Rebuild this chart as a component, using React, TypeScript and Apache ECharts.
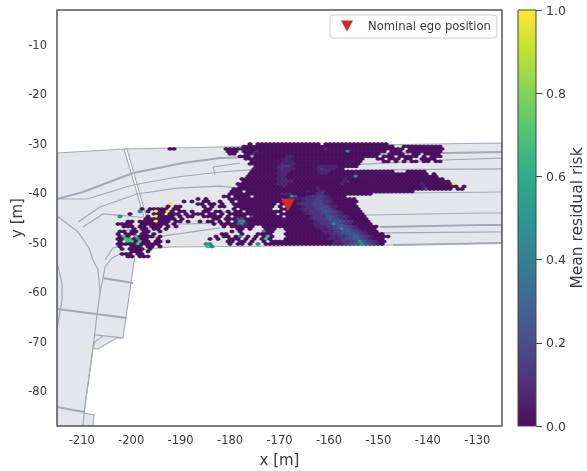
import React, { useEffect, useRef } from "react";
import * as echarts from "echarts";

const xRange = [-215, -125];
const yRange = [-87, -3];
const xTicks = [-210, -200, -190, -180, -170, -160, -150, -140, -130];
const yTicks = [-80, -70, -60, -50, -40, -30, -20, -10];
const colorTicks = [0, 0.2, 0.4, 0.6, 0.8, 1];
const viridis = ["#440154", "#482475", "#414487", "#355f8d", "#2a788e", "#21918c", "#22a884", "#44bf70", "#7ad151", "#bddf26", "#fde725"];
const egoPosition = [-168.3, -42.4];
const egoLabel = "Nominal ego position";

const roadArea = [[-215, -31.87], [-201.24, -31.06], [-182.02, -30.66], [-159.77, -30.36], [-125, -29.85], [-125, -50.04], [-147.03, -50.45], [-192.14, -50.85], [-198.21, -51.46], [-199.22, -52.46], [-201.65, -69.2], [-202.86, -69.2], [-206.7, -71.44], [-207.72, -71.24], [-209.54, -84.37], [-207.51, -84.77], [-207.72, -87], [-215, -87]];
const crossingStripe = [[-201.45, -31.06], [-200.84, -31.06], [-195.78, -48.83], [-196.19, -48.83]];
const roadThick = [
  [[-215, -41.16], [-209.74, -39.75], [-199.63, -35.91], [-189.51, -33.89], [-182.02, -32.88], [-165.84, -32.28], [-136.9, -31.87], [-125, -31.67]],
  [[-149.65, -46.81], [-129.4, -46.41], [-125, -46.41]],
  [[-147.03, -50.45], [-125, -50.04]],
  [[-215, -63.37], [-200.84, -65.18]],
  [[-205.69, -57.11], [-199.63, -58.12]],
  [[-215, -83.15], [-209.54, -84.16]],
];
const roadThin = [
  [[-215, -41.16], [-208.93, -41.16], [-206.3, -40.35], [-199.63, -38.33], [-190.72, -36.72], [-182.02, -35.71], [-175.96, -35.3], [-155.72, -34.29], [-136.9, -33.29], [-125, -32.9]],
  [[-183.44, -34.7], [-183.04, -36.31]],
  [[-183.44, -34.7], [-177.98, -33.89]],
  [[-153.7, -35.3], [-125, -35.1]],
  [[-210.75, -45.8], [-206.3, -42.77], [-198.82, -40.15], [-190.72, -38.95], [-182.02, -38.55], [-165.84, -40.35], [-145.6, -39.95], [-125, -39.75]],
  [[-209.74, -46.81], [-205.69, -44.19], [-196.19, -45], [-182.02, -43.78], [-151.68, -44.39], [-129.4, -43.99], [-125, -43.99]],
  [[-202.86, -48.02], [-196.19, -46.41], [-182.02, -46], [-148.24, -48.02], [-125, -47.82]],
  [[-205.29, -53.47], [-203.67, -51.05], [-196.19, -49.03], [-182.02, -47]],
  [[-215, -44.59], [-210.75, -47.81], [-208.53, -51.05], [-207.72, -53.47], [-206.7, -55.49], [-206.3, -60.14], [-206.91, -64.58], [-207.72, -71.24], [-209.54, -84.37], [-209.74, -87]],
  [[-205.69, -57.11], [-205.29, -54.89], [-203.87, -53.07], [-202.25, -52.26], [-198.82, -51.66]],
  [[-205.69, -57.11], [-206.3, -60.14]],
  [[-207.31, -68.6], [-201.65, -69.2]],
  [[-205.69, -68.8], [-207.31, -70], [-207.72, -71.24]],
  [[-215, -54.08], [-214, -58.12], [-214, -61.55], [-215, -67.6]],
];

// One string per hexagon row, top to bottom; every hexbin cell is a level of mean risk, "." = no sample.
const hexRows = [
  ".......... .......... .......... ...0.00000 0000000000 0.00000000 00000000..",
  ".......... .......... .......... .000000000 0000000000 0000000000 000000000. .000000000 0",
  ".......... ...00..... .......000 0000000000 0000000000 0010000000 0000000000 00.0000000 00",
  ".......... .......... .......000 .000100000 0000000000 0000000T00 0000000.00 0.00000000 0",
  ".......... .......... ........00 ..00100000 0000000000 0000000000 000000..00 00..00.000 0",
  ".......... .......... .......... 000.000000 0011000000 0000000000 00000.000. 00000.0.00 0",
  ".......... .......... .......... ..00000000 0011000000 0000000000 00...00.00 0.00..0000",
  ".......... .......... .......... ...0000000 0111000000 0000000000 0.....00.0 .0.00.00.0 0",
  ".......... .......... .......... ...0000000 0111100000 0000000000 0.........",
  ".......... .......... .......... ....000000 1221000000 1111100000",
  ".......... .......... .......... ....000000 1211100000 1211100...",
  ".......... .......... .......... ...0000000 1110000000 1110000000 000000000. ..00000...",
  ".......... .......... .......... ...0000000 1110000000 0110000000 0000000000 00000000.0",
  ".......... .......... .......... ..00000000 1100000000 000000000T 0000000000 0000000000",
  ".......... .......... .......... .000000000 1110000000 0000000100 0000000000 0000000000 00",
  ".......... .......... .......... .000000000 1111000000 0000001100 0000000000 0000000000 000",
  ".......... .......... .......... 0000000000 1110000000 0000001000 0000000000 0000001000 0000X",
  ".......... .......... .......... 0000000000 0100000000 0000000000 0000000000 0000001000 00000.0",
  ".......... .......... .........0 0000000000 0000000000 1000000000 0000000000 0000000300 0000.00",
  ".......... .......... ........00 0.00000000 0000000100 1100000000 0000000000 0000",
  ".......... .......... ........00 0000000000 0111000000 2200000000 0000",
  ".......... .......... ......00.0 000.000000 000T300122 3210000",
  ".......... .......... 0.0.....00 0000000000 0000011222 3211000000",
  ".......... ......0.0. .00..0..0. 0000000000 0.00001223 3221000000",
  ".......... ...X...... 00.00.0..0 0000000000 .000012223 3321000000",
  ".......... ..0.00.... .0.0.00..0 000000000. 0.00001223 3331100000",
  "......0.00 000.00.... ..00.....0 .00000000. .000001222 3433100000 0",
  ".....T.0.X 00X0.00.0. .00.00.0.0 0.00000000 0.00001122 3443210000 0",
  "...0.....0 00.000.0.0 00.00.0.00 0000000000 .000000122 2343221000 00",
  "T......0.X 0000.0.00. .00000.0.0 00.3000000 0.00000012 2244322100 00",
  ".......000 00000.0... ....00.000 3300000000 0000000012 2234332100 000",
  "..00.0000X 000.00.0.. 0.00.0.0.0 TT00000000 0000000001 2223443210 000",
  "0000..0000 000.0..... ....0.0000 3T10000000 0000000001 1223T43210 0000",
  ".000.00.00 0.0.0..... ......0.00 0100..0000 0000000001 1122354321 00000",
  "....0.00.0 0.0....... .......... 00.0...000 ..00000000 111234T432 10000",
  "00.00.00.. 0......... ........0. 0.....T00. ..00000000 0111234543 21000",
  "0.000.00.0 .......... ......00.. .0...0000. ..00000000 0011223454 3210000",
  "0G0.G0000. 0......... ....0.00.0 T.0.0.0G0. ..00000000 0001122345 43210000",
  "00GG0T00.. 0......... ...0.0..00 0.0.0.0G0. ..00000000 0001112344 5321000",
  "0.GG0G00.0 0.0....... .......00. 00.0..0.00 0000000000 0000112233 T532100",
  "00000G0000 0......... ..TT....0. 00.0.T.000 0000000000 0000111234 5T43210",
  "0..000.00. 0......... ..GT......",
  ".0.0000.0.",
  "...000.0..",
  ".000.00...",
  "..00.000..",
];
const hexLevels: Record<string, number> = { "0": 0.02, "1": 0.08, "2": 0.13, "3": 0.18, "4": 0.23, "5": 0.28, T: 0.45, G: 0.68, X: 1 };
const hexOriginX = -202.66;
const hexOriginY = -30.05;
const hexStepX = 0.809;
const hexStepY = 0.505;
const hexPath = "path://M2,0L4,1L4,3L2,4L0,3L0,1Z";

const font = "'DejaVu Sans', sans-serif";
const ink = "#3a3a3a";
const triangle = "path://M0,0L12,0L6,11Z";

function hexCells() {
  const cells: number[][] = [];
  hexRows.forEach((row, k) => {
    row.replace(/ /g, "").split("").forEach((ch, j) => {
      if (ch === ".") return;
      cells.push([hexOriginX + hexStepX * (j + (k % 2) / 2), hexOriginY - hexStepY * k, hexLevels[ch]]);
    });
  });
  return cells;
}

function polyline(lines: number[][][], stroke: string, lineWidth: number, z: number) {
  return {
    type: "custom",
    coordinateSystem: "cartesian2d",
    xAxisIndex: 0,
    yAxisIndex: 0,
    clip: true,
    silent: true,
    z,
    data: lines.map((_, i) => [i]),
    renderItem: (params: any, api: any) => ({
      type: "polyline",
      shape: { points: lines[api.value(0)].map((p) => api.coord(p)) },
      style: { fill: "none", stroke, lineWidth },
    }),
  };
}

function polygon(points: number[][], fill: string, stroke: string, lineWidth: number, z: number) {
  return {
    type: "custom",
    coordinateSystem: "cartesian2d",
    xAxisIndex: 0,
    yAxisIndex: 0,
    clip: true,
    silent: true,
    z,
    data: [[0]],
    renderItem: (params: any, api: any) => ({
      type: "polygon",
      shape: { points: points.map((p) => api.coord(p)) },
      style: { fill, stroke, lineWidth },
    }),
  };
}

export default function App() {
  const ref = useRef<HTMLDivElement>(null);
  useEffect(() => {
    const chart = echarts.init(ref.current!, undefined, { renderer: "svg" });
    const barStops = viridis.map((color, i) => ({ offset: i / (viridis.length - 1), color }));
    chart.setOption({
      animation: false,
      textStyle: { fontFamily: font },
      grid: [
        { left: 57, top: 10, width: 445, height: 416, show: false, outerBoundsMode: "none" },
        { left: 518, top: 10, width: 18, height: 416, show: false, outerBoundsMode: "none" },
      ],
      xAxis: [
        {
          type: "value", gridIndex: 0, min: xRange[0], max: xRange[1], interval: 5,
          name: "x [m]", nameLocation: "middle", nameGap: 26, nameMoveOverlap: false,
          nameTextStyle: { fontFamily: font, fontSize: 15, color: ink },
          axisLine: { show: false }, axisTick: { show: false }, splitLine: { show: false },
          axisLabel: {
            fontFamily: font, fontSize: 11.5, color: ink, margin: 8, showMinLabel: false, showMaxLabel: false,
            formatter: (v: number) => (xTicks.includes(v) ? String(v) : ""),
          },
        },
        { type: "category", gridIndex: 1, data: ["colorbar"], show: false },
      ],
      yAxis: [
        {
          type: "value", gridIndex: 0, min: yRange[0], max: yRange[1], interval: 1,
          name: "y [m]", nameLocation: "middle", nameGap: 33, nameRotate: 90, nameMoveOverlap: false,
          nameTextStyle: { fontFamily: font, fontSize: 15, color: ink },
          axisLine: { show: false }, axisTick: { show: false }, splitLine: { show: false },
          axisLabel: {
            fontFamily: font, fontSize: 11.5, color: ink, margin: 10,
            formatter: (v: number) => (yTicks.includes(v) ? String(v) : ""),
          },
        },
        {
          type: "value", gridIndex: 1, min: colorTicks[0], max: colorTicks[colorTicks.length - 1], interval: 0.2, position: "right",
          name: "Mean residual risk", nameLocation: "middle", nameGap: 33, nameRotate: 90, nameMoveOverlap: false,
          nameTextStyle: { fontFamily: font, fontSize: 15.5, color: ink },
          axisLine: { show: false }, splitLine: { show: false },
          axisTick: { show: true, length: 6, lineStyle: { color: "#444", width: 1 } },
          axisLabel: { fontFamily: font, fontSize: 12.5, color: ink, margin: 10, formatter: (v: number) => v.toFixed(1) },
        },
      ],
      visualMap: {
        show: false, type: "continuous", seriesIndex: 4, dimension: 2, min: 0, max: 1,
        inRange: { color: viridis },
      },
      legend: {
        left: 330, top: 15, data: [egoLabel], selectedMode: false, orient: "horizontal",
        padding: [5, 6, 6, 11], itemWidth: 12, itemHeight: 11,
        icon: triangle,
        itemStyle: { borderWidth: 0, opacity: 1 },
        backgroundColor: "#ffffff", borderColor: "#cccccc", borderWidth: 1, borderRadius: 3,
        textStyle: { fontFamily: font, fontSize: 11.6, color: ink, padding: [0, 0, 0, 10] },
      },
      graphic: [
        { type: "rect", z: 50, silent: true, shape: { x: 57, y: 10, width: 445, height: 416 }, style: { fill: "none", stroke: "#555555", lineWidth: 1.5 } },
        { type: "rect", z: 50, silent: true, shape: { x: 518, y: 10, width: 18, height: 416 }, style: { fill: "none", stroke: "#444444", lineWidth: 1 } },
      ],
      series: [
        polygon(roadArea, "#e4e6eb", "#a3a9b6", 1.1, 1),
        polygon(crossingStripe, "#ffffff", "#a3a9b6", 1.1, 2),
        polyline(roadThin, "#a3a9b6", 1.2, 2),
        polyline(roadThick, "#a3a9b6", 2, 2),
        {
          type: "scatter", xAxisIndex: 0, yAxisIndex: 0, z: 4, silent: true,
          symbol: hexPath, symbolSize: [4.8, 3.8], itemStyle: { opacity: 0.95 },
          data: hexCells(),
        },
        {
          type: "scatter", name: egoLabel, xAxisIndex: 0, yAxisIndex: 0, z: 6, silent: true,
          symbol: triangle, symbolSize: [14, 13],
          itemStyle: { color: "#d62728", borderColor: "#8a2a2a", borderWidth: 0.4, opacity: 1 },
          data: [egoPosition],
        },
        {
          type: "bar", xAxisIndex: 1, yAxisIndex: 1, barWidth: "100%", silent: true,
          itemStyle: { opacity: 0.95, color: new echarts.graphic.LinearGradient(0, 1, 0, 0, barStops) },
          data: [colorTicks[colorTicks.length - 1]],
        },
      ],
    });
    return () => chart.dispose();
  }, []);
  return <div ref={ref} style={{ position: "fixed", left: 0, top: 0, width: 587, height: 471 }} />;
}
